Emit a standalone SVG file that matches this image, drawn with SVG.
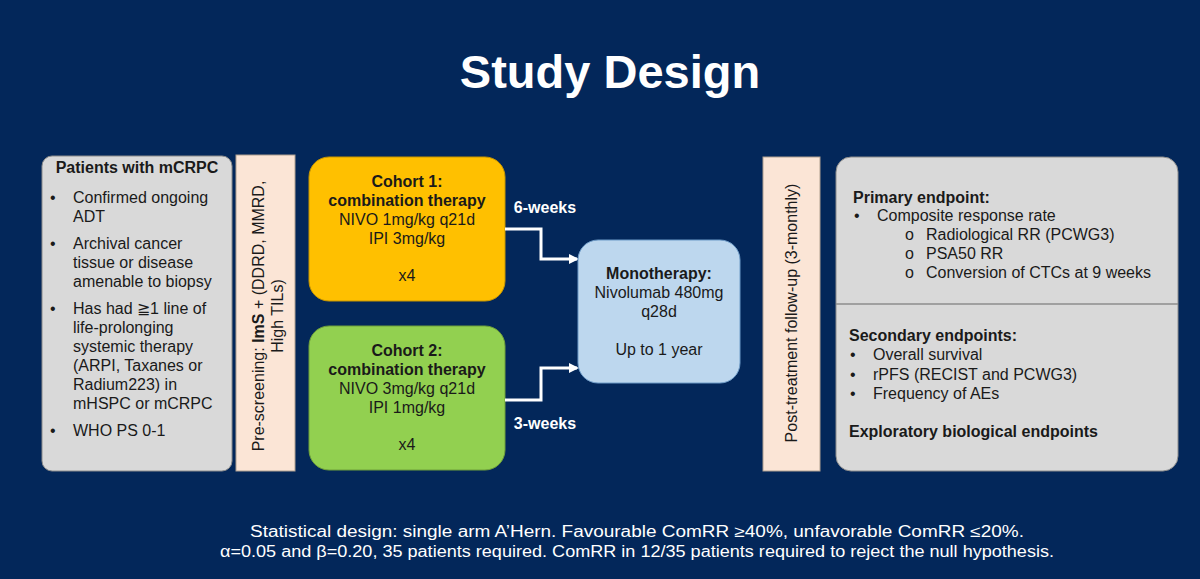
<svg xmlns="http://www.w3.org/2000/svg" width="1200" height="579" viewBox="0 0 1200 579">
<defs>
<style>
text{font-family:"Liberation Sans",Arial,sans-serif;fill:#1a1a1a;font-size:16px}
.b{font-weight:bold}
.c{text-anchor:middle}
.w{fill:#ffffff}
.gray{fill:#d9d9d9;stroke:#8c8c8c;stroke-width:1}
.peach{fill:#fbe5d6;stroke:#b0a090;stroke-width:1}
.conn{fill:none;stroke:#ffffff;stroke-width:3}
</style>
<marker id="ah" markerWidth="10" markerHeight="10" refX="8" refY="5" orient="auto" markerUnits="userSpaceOnUse">
<path d="M0,0 L10,5 L0,10 Z" fill="#ffffff"/>
</marker>
</defs>
<rect width="1200" height="579" fill="#03275a"/>
<text x="610" y="88" class="b c w" style="font-size:47px">Study Design</text>

<g id="patients">
<rect x="42" y="156" width="190" height="315" rx="10" class="gray"/>
<text x="137" y="173" class="b c">Patients with mCRPC</text>
<text x="50" y="203">•</text><text x="73" y="203">Confirmed ongoing</text>
<text x="73" y="222">ADT</text>
<text x="50" y="249">•</text><text x="73" y="249">Archival cancer</text>
<text x="73" y="268">tissue or disease</text>
<text x="73" y="287">amenable to biopsy</text>
<text x="50" y="314">•</text><text x="73" y="314">Has had ≧1 line of</text>
<text x="73" y="333">life-prolonging</text>
<text x="73" y="352">systemic therapy</text>
<text x="73" y="371">(ARPI, Taxanes or</text>
<text x="73" y="390">Radium223) in</text>
<text x="73" y="409">mHSPC or mCRPC</text>
<text x="50" y="436">•</text><text x="73" y="436">WHO PS 0-1</text>
</g>

<g id="prescreening">
<rect x="236" y="155" width="59" height="316" class="peach"/>
<text transform="translate(264,316) rotate(-90)" class="c">Pre-screening: <tspan class="b">ImS</tspan> + (DDRD, MMRD,</text>
<text transform="translate(283,316) rotate(-90)" class="c">High TILs)</text>
</g>

<g id="cohort1">
<rect x="309" y="157" width="196" height="144" rx="20" fill="#ffc000" stroke="#c89600" stroke-width="1"/>
<text x="407" y="187" class="b c">Cohort 1:</text>
<text x="407" y="206" class="b c">combination therapy</text>
<text x="407" y="225" class="c">NIVO 1mg/kg q21d</text>
<text x="407" y="244" class="c">IPI 3mg/kg</text>
<text x="407" y="281" class="c">x4</text>
</g>

<g id="cohort2">
<rect x="309" y="326" width="196" height="144" rx="20" fill="#92d050" stroke="#6fa03a" stroke-width="1"/>
<text x="407" y="356" class="b c">Cohort 2:</text>
<text x="407" y="375" class="b c">combination therapy</text>
<text x="407" y="394" class="c">NIVO 3mg/kg q21d</text>
<text x="407" y="413" class="c">IPI 1mg/kg</text>
<text x="407" y="450" class="c">x4</text>
</g>

<g id="connectors">
<polyline points="505,229 541,229 541,259 577,259" class="conn" marker-end="url(#ah)"/>
<polyline points="505,400 541,400 541,368 577,368" class="conn" marker-end="url(#ah)"/>
<text x="545" y="213" class="b c w">6-weeks</text>
<text x="545" y="429" class="b c w">3-weeks</text>
</g>

<g id="monotherapy">
<rect x="578" y="240" width="162" height="143" rx="20" fill="#bdd7ee" stroke="#6f9cc8" stroke-width="1"/>
<text x="659" y="279" class="b c">Monotherapy:</text>
<text x="659" y="298" class="c">Nivolumab 480mg</text>
<text x="659" y="317" class="c">q28d</text>
<text x="659" y="355" class="c">Up to 1 year</text>
</g>

<g id="followup">
<rect x="763" y="157" width="57" height="314" class="peach"/>
<text transform="translate(797,313) rotate(-90)" class="c">Post-treatment follow-up (3-monthly)</text>
</g>

<g id="endpoints">
<rect x="836" y="157" width="342" height="314" rx="15" class="gray"/>
<line x1="836" y1="304" x2="1178" y2="304" stroke="#8c8c8c" stroke-width="1.5"/>
<text x="853" y="203" class="b">Primary endpoint:</text>
<text x="854" y="221">•</text><text x="877" y="221">Composite response rate</text>
<text x="905" y="240">o</text><text x="926" y="240">Radiological RR (PCWG3)</text>
<text x="905" y="259">o</text><text x="926" y="259">PSA50 RR</text>
<text x="905" y="278">o</text><text x="926" y="278">Conversion of CTCs at 9 weeks</text>
<text x="849" y="341" class="b">Secondary endpoints:</text>
<text x="850" y="360">•</text><text x="873" y="360">Overall survival</text>
<text x="850" y="380">•</text><text x="873" y="380">rPFS (RECIST and PCWG3)</text>
<text x="850" y="399">•</text><text x="873" y="399">Frequency of AEs</text>
<text x="849" y="437" class="b">Exploratory biological endpoints</text>
</g>

<text x="637" y="537" class="c w" textLength="774" lengthAdjust="spacingAndGlyphs">Statistical design: single arm A’Hern. Favourable ComRR ≥40%, unfavorable ComRR ≤20%.</text>
<text x="637" y="557" class="c w" textLength="834" lengthAdjust="spacingAndGlyphs">α=0.05 and β=0.20, 35 patients required. ComRR in 12/35 patients required to reject the null hypothesis.</text>
</svg>
